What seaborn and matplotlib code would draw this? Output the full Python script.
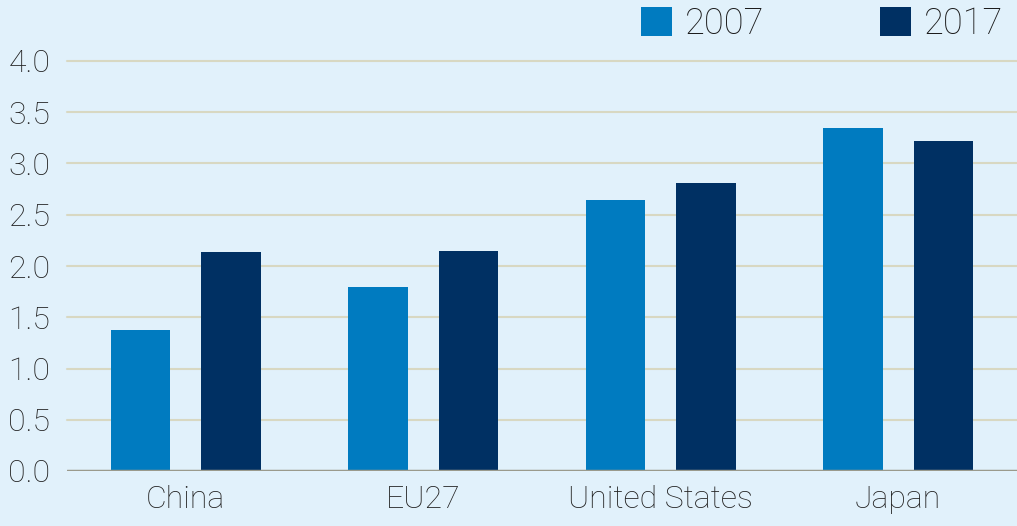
import pandas as pd
import matplotlib.pyplot as plt
import seaborn as sns

# values
regions = ['China', 'EU27', 'United States', 'Japan']
years = ['2007', '2017']
vals_2007 = [1.38, 1.80, 2.64, 3.35]
vals_2017 = [2.14, 2.15, 2.81, 3.22]
yticks = [0.0, 0.5, 1.0, 1.5, 2.0, 2.5, 3.0, 3.5, 4.0]

df = pd.DataFrame({
    'Region': regions * 2,
    'Year': [years[0]] * 4 + [years[1]] * 4,
    'Value': vals_2007 + vals_2017,
})

bg = '#E1F1FB'
sns.set_theme(style='white')
plt.rcParams['font.family'] = ['Roboto', 'DejaVu Sans']
plt.rcParams['font.weight'] = 'light'

fig = plt.figure(figsize=(10.17, 5.26), dpi=100, facecolor=bg)
ax = fig.add_axes([67 / 1017, 55 / 526, 950 / 1017, 410 / 526], facecolor=bg)

sns.barplot(data=df, x='Region', y='Value', hue='Year', order=regions,
            hue_order=years, palette=['#007BC0', '#003063'],
            width=0.76, gap=0.34, saturation=1, linewidth=0,
            ax=ax, zorder=3)

ax.set_xlim(-0.5, 3.5)
ax.set_ylim(0, 4.0)
ax.set_yticks(yticks)
ax.set_yticklabels([f'{t:.1f}' for t in yticks])
for t in yticks[1:]:
    ax.axhline(t, color='#D8D8C2', lw=1.5, zorder=1, clip_on=False)
ax.axhline(0, color='#9A9A8C', lw=2.5, zorder=4)

for s in ax.spines.values():
    s.set_visible(False)
ax.tick_params(axis='both', length=0, labelsize=23, colors='#222222')
ax.tick_params(axis='y', pad=12)
ax.tick_params(axis='x', pad=10)
ax.set_xlabel('')
ax.set_ylabel('')

sns.move_legend(ax, 'upper right', bbox_to_anchor=(1.018, 1.05),
                bbox_transform=fig.transFigure, ncol=2, frameon=False,
                title=None, fontsize=26, handlelength=0.85, handleheight=0.85,
                handletextpad=0.36, columnspacing=3.2)
for t in ax.get_legend().get_texts():
    t.set_color('#1a1a1a')

fig.savefig('out.png', dpi=100, facecolor=bg)
